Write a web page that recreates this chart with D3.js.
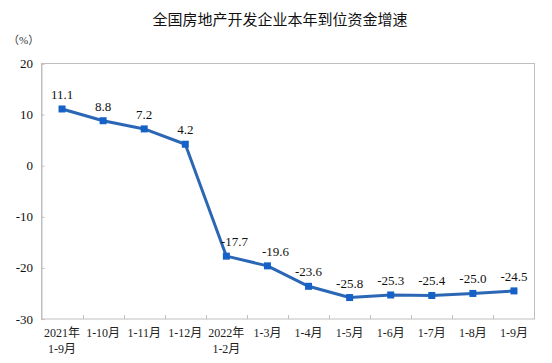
<!DOCTYPE html>
<html><head><meta charset="utf-8">
<script src="https://cdn.jsdelivr.net/npm/d3@7"></script>
<style>body{margin:0;background:#fff}svg{display:block}</style>
</head><body>
<svg id="c" width="552" height="363"></svg>
<script>
const categoriesLine1 = ["2021年","1-10月","1-11月","1-12月","2022年","1-3月","1-4月","1-5月","1-6月","1-7月","1-8月","1-9月"];
const categoriesLine2 = ["1-9月","","","","1-2月","","","","","","",""];
const values = [11.1, 8.8, 7.2, 4.2, -17.7, -19.6, -23.6, -25.8, -25.3, -25.4, -25.0, -24.5];
const yTicks = [20, 10, 0, -10, -20, -30];
const title = "全国房地产开发企业本年到位资金增速";
const unit = "（%）";

const svg = d3.select("#c");
const L = 41.5, R = 534.5, T = 63.5, B = 319;
const idx = values.map((d,i)=>i);
const x = d3.scaleBand().domain(idx).range([L, R]);
const y = d3.scaleLinear().domain([-30, 20]).range([B, T]);
const serif = "'Liberation Serif','DejaVu Serif',serif";
const cjk = "'Liberation Serif','Noto Sans CJK SC',serif";

svg.append("text").attr("x", 280).attr("y", 25).attr("text-anchor","middle")
  .attr("font-family","'Noto Sans CJK SC',sans-serif").attr("font-size",15).attr("fill","#111")
  .text(title);
svg.append("text").attr("x", 8).attr("y", 44)
  .attr("font-family",cjk).attr("font-size",11).attr("fill","#333").text(unit);

// frame
svg.append("rect").attr("x",L).attr("y",T).attr("width",R-L).attr("height",B-T)
  .attr("fill","none").attr("stroke","#bfbfbf").attr("stroke-width",1);

// y axis
const ya = svg.append("g").attr("transform",`translate(${L},0)`)
  .call(d3.axisRight(y).tickValues(yTicks).tickSize(3).tickFormat(""));
ya.select(".domain").attr("stroke","#bfbfbf");
ya.selectAll(".tick line").attr("stroke","#bfbfbf");
svg.append("g").selectAll("text").data(yTicks).join("text")
  .attr("x", 33).attr("y", d=>y(d)+4.5).attr("text-anchor","end")
  .attr("font-family",serif).attr("font-size",13).attr("fill","#111")
  .text(d=>d);

// x axis ticks (boundaries, inward)
const bounds = d3.range(1, values.length).map(i => L + i*x.step());
svg.append("g").selectAll("line").data(bounds).join("line")
  .attr("x1",d=>Math.round(d)+0.5).attr("x2",d=>Math.round(d)+0.5)
  .attr("y1",B).attr("y2",B-4).attr("stroke","#bfbfbf");

// x labels
const xl = svg.append("g").attr("font-family",cjk).attr("font-size",12).attr("fill","#222").attr("text-anchor","middle");
xl.selectAll("text.l1").data(categoriesLine1).join("text").attr("class","l1")
  .attr("x",(d,i)=>x(i)+x.bandwidth()/2).attr("y",337).text(d=>d);
xl.selectAll("text.l2").data(categoriesLine2).join("text").attr("class","l2")
  .attr("x",(d,i)=>x(i)+x.bandwidth()/2).attr("y",353).text(d=>d);

// line
const cx = i => x(i)+x.bandwidth()/2;
svg.append("path").datum(values)
  .attr("d", d3.line().x((d,i)=>cx(i)).y(d=>y(d)))
  .attr("fill","none").attr("stroke","#2b67b5").attr("stroke-width",3).attr("stroke-linejoin","round");
svg.append("g").selectAll("rect").data(values).join("rect")
  .attr("x",(d,i)=>cx(i)-3.5).attr("y",d=>y(d)-3.5).attr("width",7).attr("height",7)
  .attr("fill","#1661c7");

// value labels
svg.append("g").selectAll("text").data(values).join("text")
  .attr("x",(d,i)=>cx(i)+(d<-15 && d>-20 ? 8 : 0)).attr("y",d=>y(d)-10)
  .attr("text-anchor","middle").attr("font-family",serif).attr("font-size",13).attr("fill","#111")
  .text(d=>d.toFixed(1));
</script>
</body></html>
